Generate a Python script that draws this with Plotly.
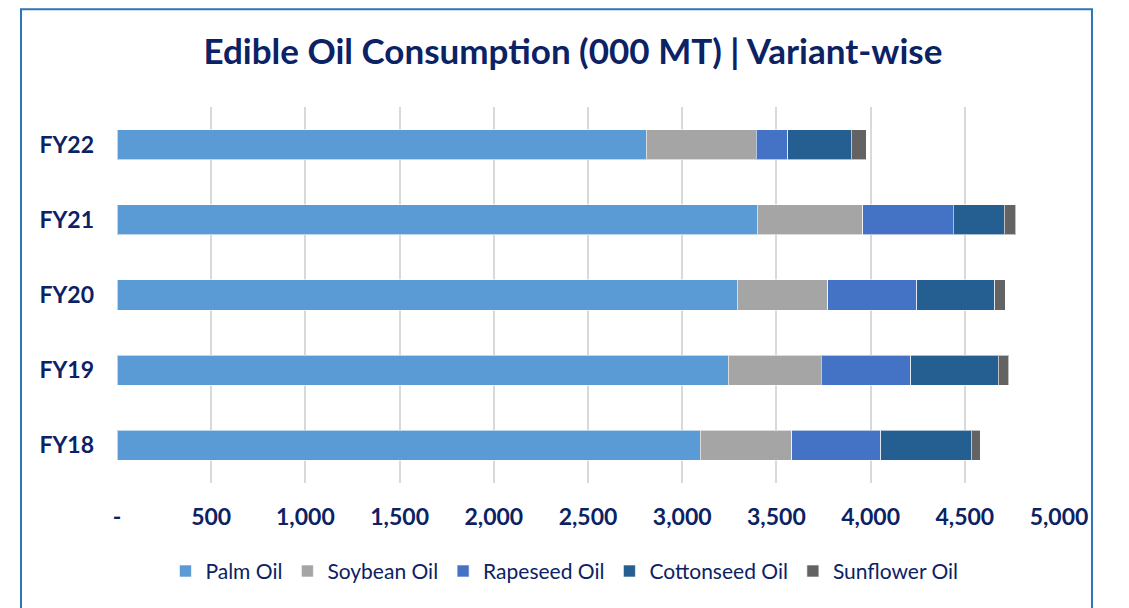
import plotly.graph_objects as go

# Dados (000 MT)
anos = ["FY18", "FY19", "FY20", "FY21", "FY22"]
palm_oil = [3096, 3244, 3292, 3398, 2809]
soybean_oil = [486, 494, 481, 559, 584]
rapeseed_oil = [473, 474, 471, 481, 166]
cottonseed_oil = [479, 465, 416, 271, 338]
sunflower_oil = [48, 55, 54, 62, 80]

series = ["Palm Oil", "Soybean Oil", "Rapeseed Oil", "Cottonseed Oil", "Sunflower Oil"]
valores = [palm_oil, soybean_oil, rapeseed_oil, cottonseed_oil, sunflower_oil]
cores = ["#5b9bd5", "#a5a5a5", "#4472c4", "#255e91", "#636363"]

tick_vals = [0, 500, 1000, 1500, 2000, 2500, 3000, 3500, 4000, 4500, 5000]
tick_text = ["-", "500", "1,000", "1,500", "2,000", "2,500", "3,000", "3,500", "4,000", "4,500", "5,000"]

AZUL_ESCURO = "#0b2265"
FONTE = "Lato"

fig = go.Figure()

# Uma barra empilhada por variante
for nome, vals, cor in zip(series, valores, cores):
    fig.add_trace(
        go.Bar(
            y=anos,
            x=vals,
            name=nome,
            orientation="h",
            marker=dict(color=cor, line=dict(color="rgba(255,255,255,0.6)", width=1)),
        )
    )

# Obs: a página tem 8px de margem no body, por isso as margens já descontam isso
fig.update_layout(
    barmode="stack",
    bargap=0.6,
    width=1129,
    height=608,
    paper_bgcolor="white",
    plot_bgcolor="white",
    margin=dict(l=109, r=78, t=99, b=133),
    title=dict(
        text="<b>Edible Oil Consumption (000 MT) | Variant-wise</b>",
        x=0.484,
        xref="paper",
        xanchor="center",
        y=0.9276,
        yanchor="middle",
        font=dict(family=FONTE, size=35, color=AZUL_ESCURO),
    ),
    legend=dict(
        orientation="h",
        x=0.475,
        xanchor="center",
        y=-0.235,
        yanchor="middle",
        font=dict(family=FONTE, size=21, color=AZUL_ESCURO),
        traceorder="normal",
        itemwidth=30,
    ),
    showlegend=True,
)

# Eixo x com grade vertical
fig.update_xaxes(
    range=[0, 5000],
    tickvals=tick_vals,
    ticktext=tick_text,
    showgrid=True,
    gridcolor="#d9d9d9",
    gridwidth=1.5,
    zeroline=False,
    showline=False,
    ticklabelstandoff=18,
    tickfont=dict(family=FONTE, size=23, color=AZUL_ESCURO, weight="bold"),
)

# Eixo y com os anos
fig.update_yaxes(
    showgrid=False,
    showline=False,
    ticklabelstandoff=22,
    tickfont=dict(family=FONTE, size=23, color=AZUL_ESCURO, weight="bold"),
)

# Moldura azul em volta do gráfico
fig.add_shape(
    type="rect",
    xref="paper",
    yref="paper",
    x0=-0.1019,
    x1=1.035,
    y0=-0.36,
    y1=1.2602,
    line=dict(color="#2e75b6", width=2),
    layer="below",
)

fig.write_html("out.html")
